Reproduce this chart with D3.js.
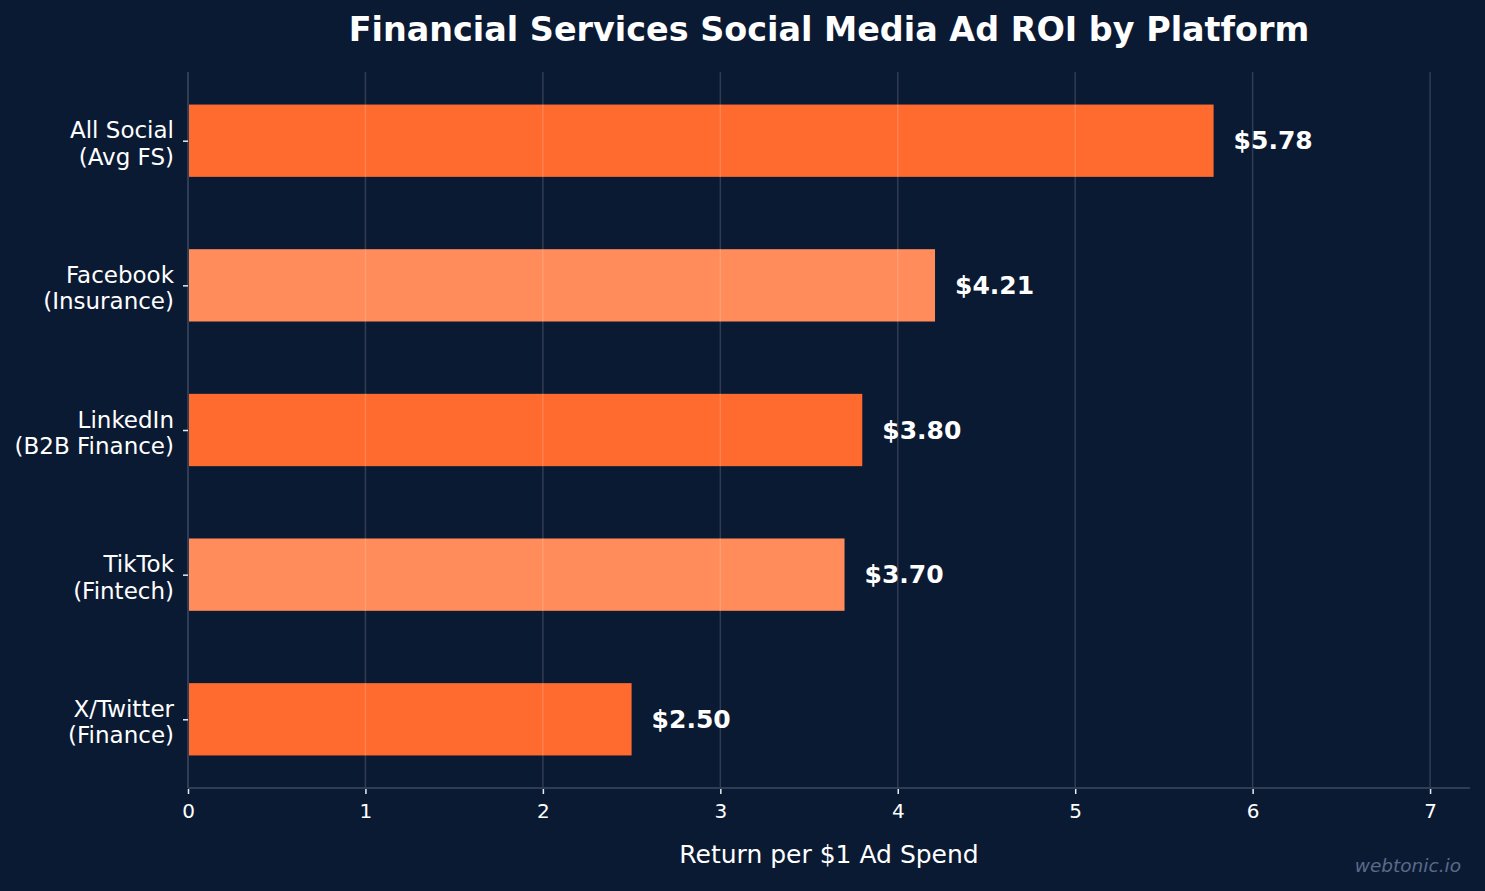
<!DOCTYPE html>
<meta charset="utf-8">
<style>
body { margin: 0; background: #0b1a33; }
svg text { font-family: "DejaVu Sans", sans-serif; }
</style>
<svg id="chart" width="1485" height="891"></svg>
<script src="https://cdn.jsdelivr.net/npm/d3@7"></script>
<script>
var platforms = ["All Social\n(Avg FS)", "Facebook\n(Insurance)", "LinkedIn\n(B2B Finance)", "TikTok\n(Fintech)", "X/Twitter\n(Finance)"];
var roi = [5.78, 4.21, 3.80, 3.70, 2.50];
var xTicks = [0, 1, 2, 3, 4, 5, 6, 7];
var barColors = ["#ff6b2f", "#ff8c5a"];

var svg = d3.select("#chart"),
    margin = {top: 72, right: 15, bottom: 103, left: 188},
    width = 1485 - margin.left - margin.right,
    height = 891 - margin.top - margin.bottom;

svg.append("rect").attr("width", 1485).attr("height", 891).attr("fill", "#0b1a33");

var g = svg.append("g").attr("transform", "translate(" + margin.left + "," + margin.top + ")");

var x = d3.scaleLinear().domain([0, d3.max(roi) * 1.25]).range([0, width]);
// categorical positions like matplotlib barh, with 5% margins
var y = d3.scaleLinear().domain([-0.475, platforms.length - 1 + 0.475]).range([0, height]);
var barH = y(0.5) - y(0);

// bars
g.selectAll("rect.bar")
  .data(roi)
  .enter().append("rect")
    .attr("class", "bar")
    .attr("x", x(0))
    .attr("y", function(d, i) { return y(i) - barH / 2; })
    .attr("width", function(d) { return x(d) - x(0); })
    .attr("height", barH)
    .attr("fill", function(d, i) { return barColors[i % 2]; });

// grid over bars
g.selectAll("line.grid")
  .data(xTicks)
  .enter().append("line")
    .attr("class", "grid")
    .attr("x1", function(d) { return x(d); })
    .attr("x2", function(d) { return x(d); })
    .attr("y1", 0).attr("y2", height)
    .attr("stroke", "#ffffff").attr("stroke-opacity", 0.15).attr("stroke-width", 1.5);

// spines
g.append("line").attr("x1", 0).attr("x2", 0).attr("y1", 0).attr("y2", height)
  .attr("stroke", "#2e3d55").attr("stroke-width", 2);
g.append("line").attr("x1", 0).attr("x2", width).attr("y1", height).attr("y2", height)
  .attr("stroke", "#2e3d55").attr("stroke-width", 2);

// x axis
var xAxis = g.append("g").attr("transform", "translate(0," + height + ")")
  .call(d3.axisBottom(x).tickValues(xTicks).tickSize(5).tickPadding(11).tickFormat(d3.format("d")));
xAxis.select(".domain").remove();
xAxis.selectAll(".tick line").attr("stroke", "#e8ecf2").attr("stroke-width", 1.5).attr("transform", "translate(0,1)");
xAxis.selectAll(".tick text").attr("fill", "#ffffff").attr("font-size", 20).attr("font-family", "DejaVu Sans");

// y axis
var yAxis = g.append("g")
  .call(d3.axisLeft(y).tickValues(d3.range(platforms.length)).tickSize(5).tickPadding(9).tickFormat(""));
yAxis.select(".domain").remove();
yAxis.selectAll(".tick line").attr("stroke", "#e8ecf2").attr("stroke-width", 1.5);
yAxis.selectAll(".tick").each(function(d) {
  var lines = platforms[d].split("\n");
  var t = d3.select(this).append("text")
    .attr("fill", "#ffffff").attr("font-size", 23).attr("text-anchor", "end")
    .attr("x", -14).attr("font-family", "DejaVu Sans");
  lines.forEach(function(l, k) {
    t.append("tspan").attr("x", -14).attr("y", k * 26.5 - 3).text(l);
  });
});

// value labels
g.selectAll("text.val")
  .data(roi)
  .enter().append("text")
    .attr("class", "val")
    .attr("x", function(d) { return x(d) + 20; })
    .attr("y", function(d, i) { return y(i); })
    .attr("dy", "0.35em")
    .attr("fill", "#ffffff").attr("font-size", 25).attr("font-weight", "bold")
    .text(function(d) { return "$" + d.toFixed(2); });

// title
svg.append("text")
  .attr("x", margin.left + width / 2).attr("y", 41)
  .attr("text-anchor", "middle").attr("fill", "#ffffff")
  .attr("font-size", 33.4).attr("font-weight", "bold")
  .text("Financial Services Social Media Ad ROI by Platform");

// axis label
svg.append("text")
  .attr("x", margin.left + width / 2).attr("y", 863)
  .attr("text-anchor", "middle").attr("fill", "#ffffff")
  .attr("font-size", 25)
  .text("Return per $1 Ad Spend");

// watermark
svg.append("text")
  .attr("x", 1461).attr("y", 872)
  .attr("text-anchor", "end").attr("fill", "#5a6a88")
  .attr("font-size", 18.5).attr("font-style", "italic")
  .text("webtonic.io");
</script>
